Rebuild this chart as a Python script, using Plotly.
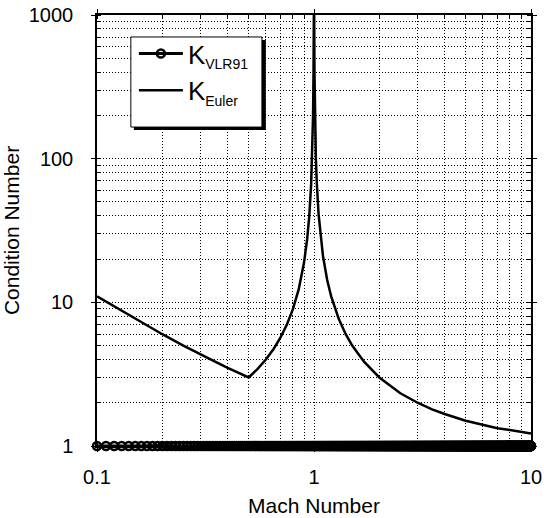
import numpy as np
import plotly.graph_objects as go

# K_Euler: значения
mach_euler = [0.1, 0.15, 0.2, 0.25, 0.3, 0.35, 0.4, 0.45, 0.5, 0.55, 0.6, 0.65,
              0.7, 0.75, 0.8, 0.85, 0.9, 0.93, 0.95, 0.97, 0.98, 0.99, 0.995,
              0.998, 0.999, 1.001, 1.002, 1.005, 1.01, 1.02, 1.03, 1.05, 1.1,
              1.15, 1.2, 1.3, 1.4, 1.5, 1.7, 2, 2.5, 3, 3.5, 4, 5, 6, 7, 8, 9, 10]
k_euler = [11.0, 7.67, 6.0, 5.0, 4.33, 3.86, 3.5, 3.22, 3.0, 3.44, 4.0, 4.71,
           5.67, 7.0, 9.0, 12.3, 19.0, 27.6, 39.0, 65.7, 99.0, 199, 399,
           999, 1999, 2001, 1001, 401, 201, 101, 67.7, 41, 21,
           14.3, 11, 7.67, 6.0, 5.0, 3.86, 3.0, 2.33, 2.0, 1.8, 1.67, 1.5,
           1.4, 1.33, 1.29, 1.25, 1.22]

# K_VLR91: точки через 0.01 по числу Маха, значение везде 1
mach_vlr = np.round(np.arange(0.1, 10.005, 0.01), 2)
k_vlr = [1.0] * len(mach_vlr)

x_ticks = [0.1, 1, 10]
x_labels = ["0.1", "1", "10"]
y_ticks = [1, 10, 100, 1000]
y_labels = ["1", "10", "100", "1000"]

font = "Liberation Sans, Arial, sans-serif"
sub = '<sub><span style="font-size:14px">%s</span></sub>'

fig = go.Figure()
fig.add_trace(go.Scatter(x=mach_vlr, y=k_vlr, mode="lines+markers",
                         name="K" + sub % "VLR91", cliponaxis=False,
                         line=dict(color="black", width=3),
                         marker=dict(symbol="circle-open", size=8, color="black",
                                     line=dict(width=2.5, color="black"))))
fig.add_trace(go.Scatter(x=mach_euler, y=k_euler, mode="lines",
                         name="K" + sub % "Euler",
                         line=dict(color="black", width=2.5)))

grid = dict(showgrid=True, gridcolor="black", gridwidth=1, griddash="1px,2px")
fig.update_xaxes(type="log", range=[-1, 1], tickvals=x_ticks, ticktext=x_labels,
                 showline=True, linecolor="black", linewidth=1.5, mirror="ticks",
                 ticks="outside", ticklen=4, tickcolor="black", ticklabelstandoff=8,
                 zeroline=False, automargin=False,
                 minor=dict(dtick="D1", ticks="inside", ticklen=4, tickcolor="black", **grid),
                 title=dict(text="Mach Number", font=dict(size=21), standoff=12),
                 **grid)
fig.update_yaxes(type="log", range=[0, 3], tickvals=y_ticks, ticktext=y_labels,
                 showline=True, linecolor="black", linewidth=1.5, mirror="ticks",
                 ticks="outside", ticklen=4, tickcolor="black", ticklabelstandoff=14,
                 zeroline=False, automargin=False,
                 minor=dict(dtick="D1", ticks="inside", ticklen=4, tickcolor="black", **grid),
                 title=dict(text="Condition Number", font=dict(size=21), standoff=8),
                 **grid)

# рамка легенды с тенью
fig.add_shape(type="rect", xref="paper", yref="paper", x0=0.085, x1=0.389,
              y0=0.733, y1=0.942, fillcolor="black", line=dict(width=0), layer="above")
fig.add_shape(type="rect", xref="paper", yref="paper", x0=0.078, x1=0.380,
              y0=0.740, y1=0.949, fillcolor="white", line=dict(color="black", width=1),
              layer="above")

fig.update_layout(
    width=544, height=518,
    margin=dict(l=97, r=13, t=15, b=72, autoexpand=False),
    paper_bgcolor="white", plot_bgcolor="white",
    font=dict(family=font, size=20, color="black"),
    showlegend=True,
    legend=dict(x=0.085, y=0.965, xanchor="left", yanchor="top",
                bgcolor="rgba(0,0,0,0)", borderwidth=0, itemwidth=44,
                font=dict(size=26)),
)

fig.write_html("out.html", config={"displayModeBar": False},
               post_script="document.body.style.margin='0';")
